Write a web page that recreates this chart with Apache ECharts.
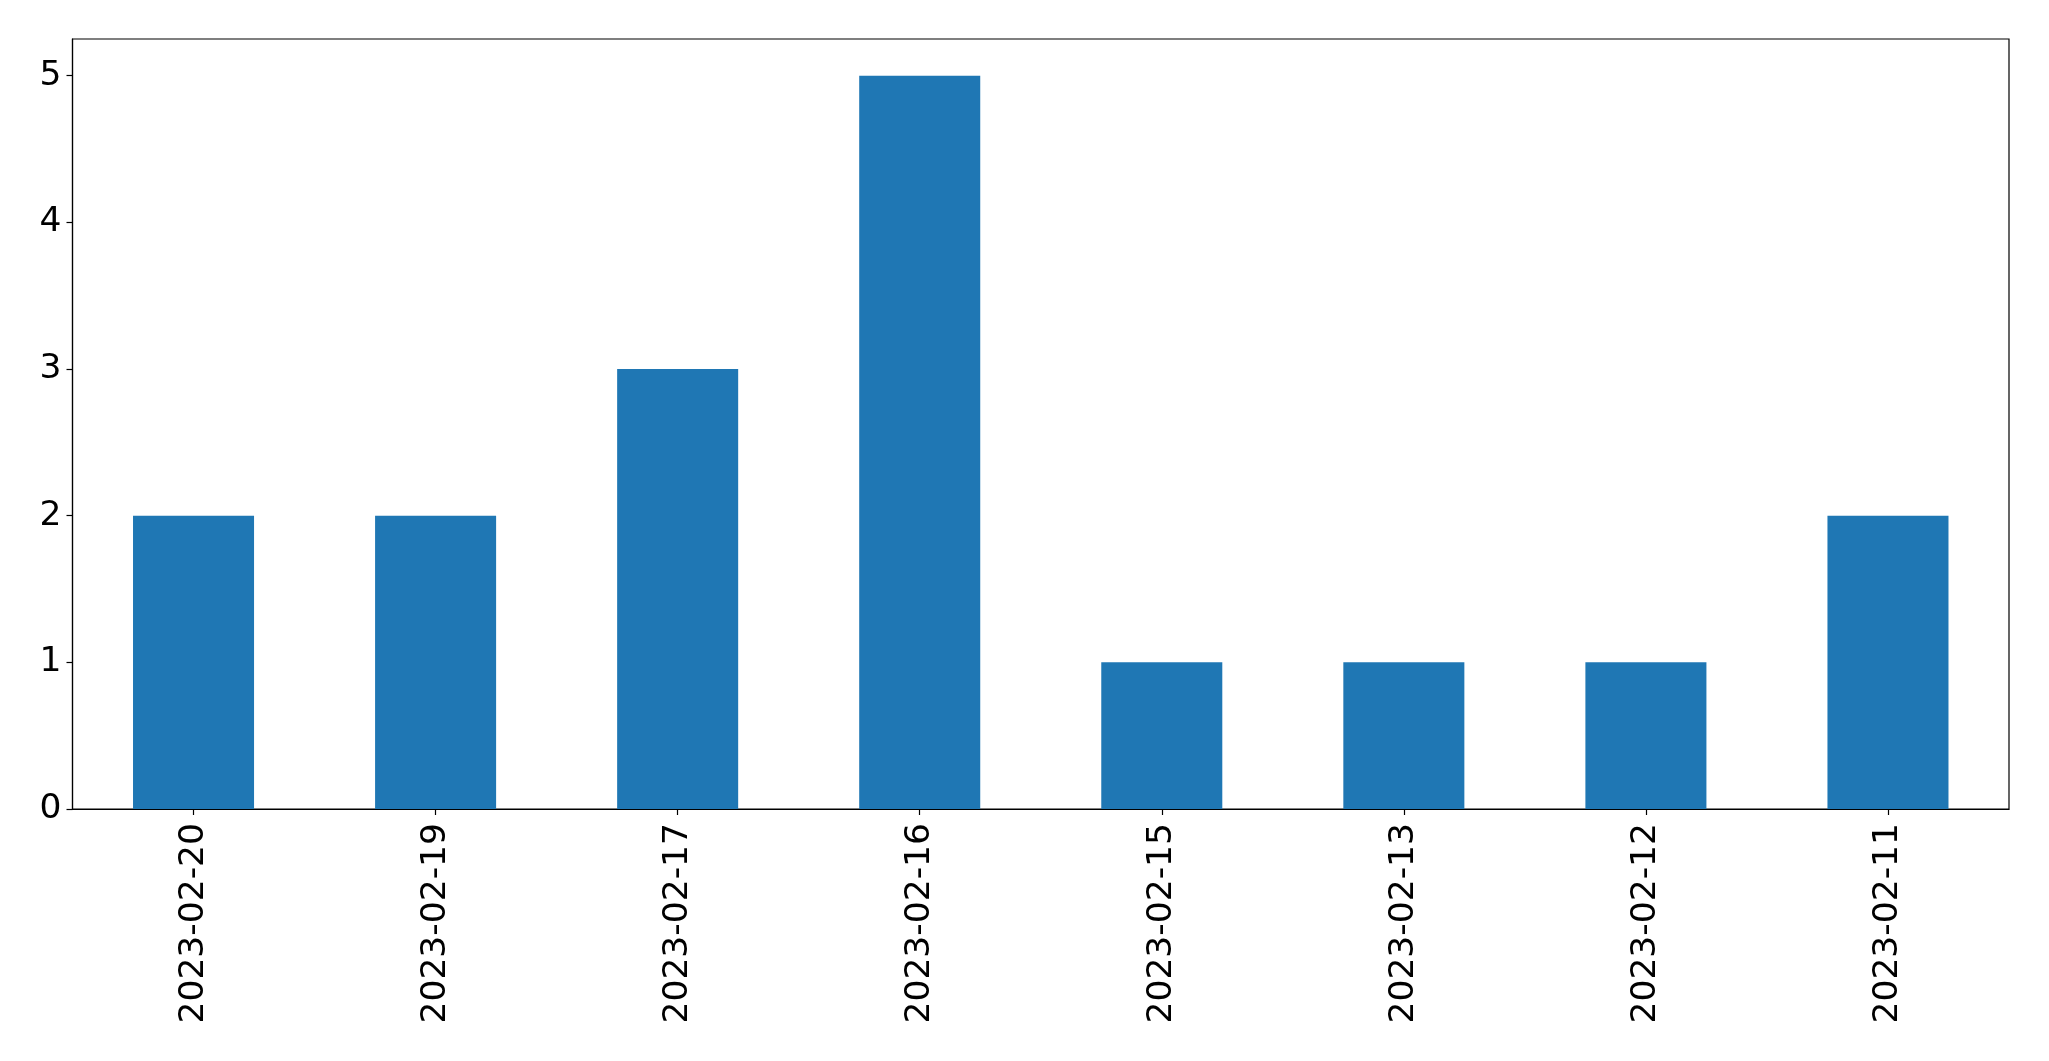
<!DOCTYPE html>
<html>
<head>
<meta charset="utf-8">
<script src="https://cdn.jsdelivr.net/npm/echarts@6/dist/echarts.min.js"></script>
<style>html,body{margin:0;padding:0;background:#fff;}#c{width:2049px;height:1061px;}</style>
</head>
<body>
<div id="c"></div>
<script>
const categories = ["2023-02-20","2023-02-19","2023-02-17","2023-02-16","2023-02-15","2023-02-13","2023-02-12","2023-02-11"];
const counts = [2,2,3,5,1,1,1,2];
const yTicks = [0,1,2,3,4,5];

const chart = echarts.init(document.getElementById('c'), null, {renderer:'canvas'});
chart.setOption({
  animation: false,
  backgroundColor: '#fff',
  grid: {left: 72.5, right: 40, top: 39, bottom: 252, show: true, borderColor: '#000', borderWidth: 1.2, containLabel: false},
  xAxis: {
    type: 'category',
    data: categories,
    boundaryGap: true,
    axisLine: {show: true, lineStyle: {color: '#000', width: 1.2}},
    axisTick: {show: true, alignWithLabel: true, length: 6, lineStyle: {color: '#000', width: 1.2}},
    axisLabel: {rotate: 90, fontSize: 34.5, color: '#000', margin: 14, fontFamily: 'DejaVu Sans', interval: 0},
    splitLine: {show: false}
  },
  yAxis: {
    type: 'value',
    min: 0, max: 5.25, interval: 1,
    axisLine: {show: true, lineStyle: {color: '#000', width: 1.2}},
    axisTick: {show: true, length: 6, customValues: yTicks, lineStyle: {color: '#000', width: 1.2}},
    axisLabel: {fontSize: 34.5, color: '#000', margin: 11, fontFamily: 'DejaVu Sans', customValues: yTicks},
    splitLine: {show: false}
  },
  series: [{
    type: 'bar',
    data: counts,
    barWidth: '50%',
    itemStyle: {color: '#1f77b4'}
  }]
});
</script>
</body>
</html>
